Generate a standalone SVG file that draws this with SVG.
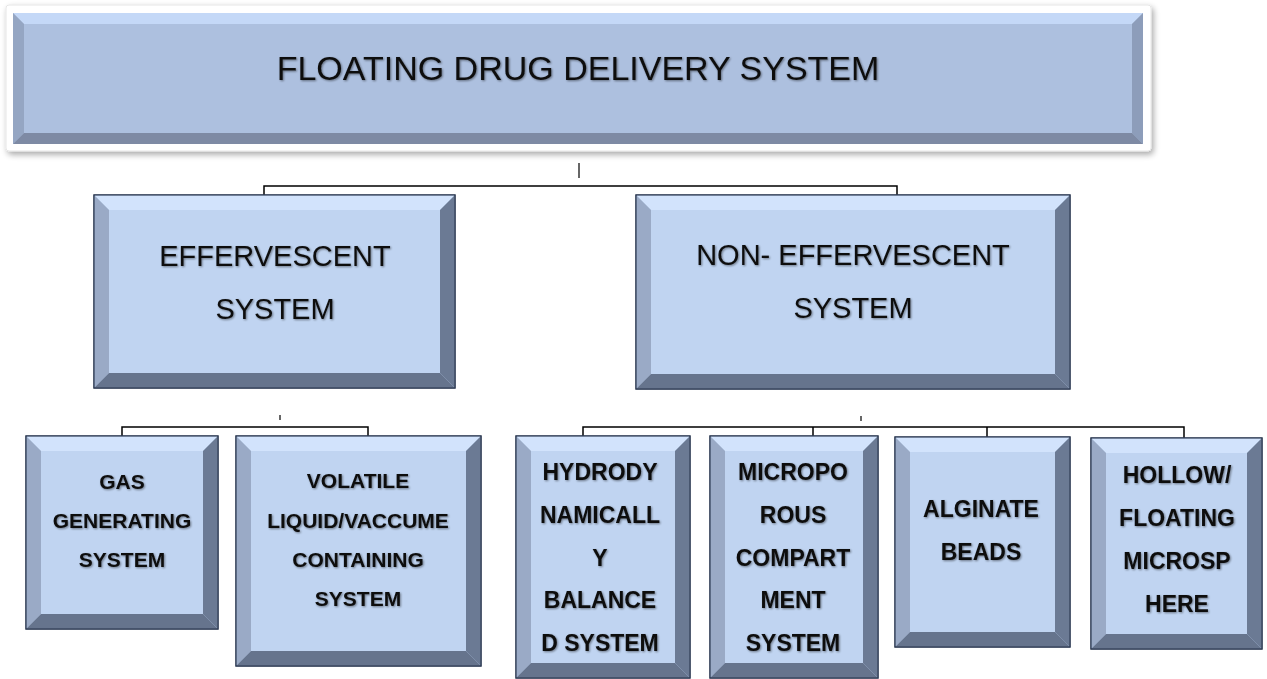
<svg xmlns="http://www.w3.org/2000/svg" width="1267" height="679" viewBox="0 0 1267 679">
<style>
  .face2{fill:#c0d4f1;stroke:#2f3d55;stroke-width:1.2}
  .bt2{fill:#d2e3fc}
  .bl2{fill:#9aaac6}
  .br2{fill:#6b7a94}
  .bb2{fill:#66748d}
  .face1{fill:#adc0df}
  .bt1{fill:#c4d8f7}
  .bl1{fill:#95a6c3}
  .br1{fill:#8d9dba}
  .bb1{fill:#7e8aa4}
  .t{font-family:"Liberation Sans",Arial,sans-serif;fill:#111;text-anchor:middle;filter:url(#ts)}
  .t1{font-size:34px}
  .t2{font-size:29px}
  .t3{font-size:21px;font-weight:bold}
  .t4{font-size:23px;font-weight:bold}
  .c{fill:none;stroke:#000;stroke-width:1.5}
  .tick{stroke:#333;stroke-width:1.5}
</style>
<defs>
  <filter id="ts" x="-10%" y="-30%" width="120%" height="160%">
    <feGaussianBlur in="SourceAlpha" stdDeviation="1.3" result="b"/>
    <feOffset in="b" dx="0.8" dy="1" result="o"/>
    <feComponentTransfer in="o" result="s"><feFuncA type="linear" slope="0.45"/></feComponentTransfer>
    <feMerge><feMergeNode in="s"/><feMergeNode in="SourceGraphic"/></feMerge>
  </filter>
  <filter id="fs" x="-5%" y="-10%" width="110%" height="125%">
    <feGaussianBlur in="SourceAlpha" stdDeviation="3"/>
    <feOffset dx="2" dy="3" result="o"/>
    <feComponentTransfer in="o" result="s"><feFuncA type="linear" slope="0.35"/></feComponentTransfer>
    <feMerge><feMergeNode in="s"/><feMergeNode in="SourceGraphic"/></feMerge>
  </filter>
</defs>
<rect width="1267" height="679" fill="#fff"/>

<g id="connectors">
  <line class="tick" x1="579" y1="163" x2="579" y2="178"/>
  <path class="c" d="M264,195 V186 H897 V195"/>
  <line class="tick" x1="280" y1="415" x2="280" y2="420"/>
  <path class="c" d="M122,436 V427 H368 V436"/>
  <line class="tick" x1="861" y1="416" x2="861" y2="421"/>
  <path class="c" d="M583,436 V427 H1184 V438 M813,427 V436 M987,427 V437"/>
</g>

<g id="root">
  <rect x="6" y="5" width="1145" height="146" rx="3" fill="#fff" stroke="#e6e6e6" stroke-width="1" filter="url(#fs)"/>
  <rect class="face1" x="13" y="13" width="1130" height="131"/>
  <polygon class="bt1" points="13,13 1143,13 1132,24 24,24"/>
  <polygon class="bl1" points="13,13 24,24 24,133 13,144"/>
  <polygon class="br1" points="1143,13 1143,144 1132,133 1132,24"/>
  <polygon class="bb1" points="13,144 24,133 1132,133 1143,144"/>
  <text class="t t1" x="578" y="80">FLOATING DRUG DELIVERY SYSTEM</text>
</g>

<g id="effervescent">
  <rect class="face2" x="94" y="195" width="361" height="193"/>
  <polygon class="bt2" points="94,195 455,195 440,210 109,210"/>
  <polygon class="bl2" points="94,195 109,210 109,373 94,388"/>
  <polygon class="br2" points="455,195 455,388 440,373 440,210"/>
  <polygon class="bb2" points="94,388 109,373 440,373 455,388"/>
  <rect x="94" y="195" width="361" height="193" fill="none" stroke="#2f3d55" stroke-width="1.2"/>
  <text class="t t2" x="275" y="266">EFFERVESCENT</text>
  <text class="t t2" x="275" y="319">SYSTEM</text>
</g>

<g id="non-effervescent">
  <rect class="face2" x="636" y="195" width="434" height="194"/>
  <polygon class="bt2" points="636,195 1070,195 1055,210 651,210"/>
  <polygon class="bl2" points="636,195 651,210 651,374 636,389"/>
  <polygon class="br2" points="1070,195 1070,389 1055,374 1055,210"/>
  <polygon class="bb2" points="636,389 651,374 1055,374 1070,389"/>
  <rect x="636" y="195" width="434" height="194" fill="none" stroke="#2f3d55" stroke-width="1.2"/>
  <text class="t t2" x="853" y="265">NON- EFFERVESCENT</text>
  <text class="t t2" x="853" y="318">SYSTEM</text>
</g>

<g id="gas-generating">
  <rect class="face2" x="26" y="436" width="192" height="193"/>
  <polygon class="bt2" points="26,436 218,436 203,451 41,451"/>
  <polygon class="bl2" points="26,436 41,451 41,614 26,629"/>
  <polygon class="br2" points="218,436 218,629 203,614 203,451"/>
  <polygon class="bb2" points="26,629 41,614 203,614 218,629"/>
  <rect x="26" y="436" width="192" height="193" fill="none" stroke="#2f3d55" stroke-width="1.2"/>
  <text class="t t3" x="122" y="489">GAS</text>
  <text class="t t3" x="122" y="528">GENERATING</text>
  <text class="t t3" x="122" y="567">SYSTEM</text>
</g>

<g id="volatile-liquid">
  <rect class="face2" x="236" y="436" width="245" height="230"/>
  <polygon class="bt2" points="236,436 481,436 466,451 251,451"/>
  <polygon class="bl2" points="236,436 251,451 251,651 236,666"/>
  <polygon class="br2" points="481,436 481,666 466,651 466,451"/>
  <polygon class="bb2" points="236,666 251,651 466,651 481,666"/>
  <rect x="236" y="436" width="245" height="230" fill="none" stroke="#2f3d55" stroke-width="1.2"/>
  <text class="t t3" x="358" y="488">VOLATILE</text>
  <text class="t t3" x="358" y="528">LIQUID/VACCUME</text>
  <text class="t t3" x="358" y="567">CONTAINING</text>
  <text class="t t3" x="358" y="606">SYSTEM</text>
</g>

<g id="hydrodynamically-balanced">
  <rect class="face2" x="516" y="436" width="174" height="242"/>
  <polygon class="bt2" points="516,436 690,436 675,451 531,451"/>
  <polygon class="bl2" points="516,436 531,451 531,663 516,678"/>
  <polygon class="br2" points="690,436 690,678 675,663 675,451"/>
  <polygon class="bb2" points="516,678 531,663 675,663 690,678"/>
  <rect x="516" y="436" width="174" height="242" fill="none" stroke="#2f3d55" stroke-width="1.2"/>
  <text class="t t4" x="600" y="480">HYDRODY</text>
  <text class="t t4" x="600" y="523">NAMICALL</text>
  <text class="t t4" x="600" y="566">Y</text>
  <text class="t t4" x="600" y="608">BALANCE</text>
  <text class="t t4" x="600" y="651">D SYSTEM</text>
</g>

<g id="microporous-compartment">
  <rect class="face2" x="710" y="436" width="168" height="242"/>
  <polygon class="bt2" points="710,436 878,436 863,451 725,451"/>
  <polygon class="bl2" points="710,436 725,451 725,663 710,678"/>
  <polygon class="br2" points="878,436 878,678 863,663 863,451"/>
  <polygon class="bb2" points="710,678 725,663 863,663 878,678"/>
  <rect x="710" y="436" width="168" height="242" fill="none" stroke="#2f3d55" stroke-width="1.2"/>
  <text class="t t4" x="793" y="480">MICROPO</text>
  <text class="t t4" x="793" y="523">ROUS</text>
  <text class="t t4" x="793" y="566">COMPART</text>
  <text class="t t4" x="793" y="608">MENT</text>
  <text class="t t4" x="793" y="651">SYSTEM</text>
</g>

<g id="alginate-beads">
  <rect class="face2" x="895" y="437" width="175" height="210"/>
  <polygon class="bt2" points="895,437 1070,437 1055,452 910,452"/>
  <polygon class="bl2" points="895,437 910,452 910,632 895,647"/>
  <polygon class="br2" points="1070,437 1070,647 1055,632 1055,452"/>
  <polygon class="bb2" points="895,647 910,632 1055,632 1070,647"/>
  <rect x="895" y="437" width="175" height="210" fill="none" stroke="#2f3d55" stroke-width="1.2"/>
  <text class="t t4" x="981" y="517">ALGINATE</text>
  <text class="t t4" x="981" y="560">BEADS</text>
</g>

<g id="hollow-microsphere">
  <rect class="face2" x="1091" y="438" width="171" height="211"/>
  <polygon class="bt2" points="1091,438 1262,438 1247,453 1106,453"/>
  <polygon class="bl2" points="1091,438 1106,453 1106,634 1091,649"/>
  <polygon class="br2" points="1262,438 1262,649 1247,634 1247,453"/>
  <polygon class="bb2" points="1091,649 1106,634 1247,634 1262,649"/>
  <rect x="1091" y="438" width="171" height="211" fill="none" stroke="#2f3d55" stroke-width="1.2"/>
  <text class="t t4" x="1177" y="483">HOLLOW/</text>
  <text class="t t4" x="1177" y="526">FLOATING</text>
  <text class="t t4" x="1177" y="569">MICROSP</text>
  <text class="t t4" x="1177" y="612">HERE</text>
</g>
</svg>
